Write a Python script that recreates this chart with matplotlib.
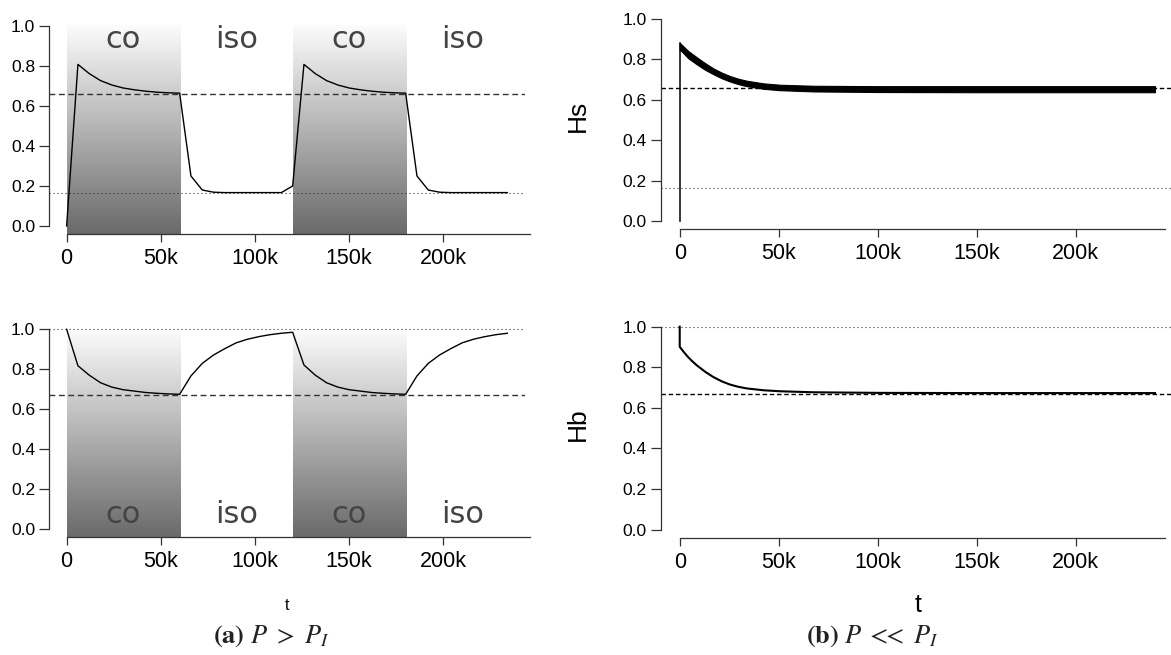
import numpy as np
import matplotlib
matplotlib.use('Agg')
import matplotlib.pyplot as plt
from matplotlib.colors import LinearSegmentedColormap
from matplotlib.ticker import FuncFormatter

plt.rcParams['font.family'] = ['Liberation Sans', 'DejaVu Sans']
plt.rcParams['mathtext.fontset'] = 'stix'

# ---- (a) P > P_I : sampled every 6k steps (t in thousands)
T_A = [0, 6, 12, 18, 24, 30, 36, 42, 48, 54, 60, 66, 72, 78, 84, 90, 96, 102, 108, 114,
       120, 126, 132, 138, 144, 150, 156, 162, 168, 174, 180, 186, 192, 198, 204, 210,
       216, 222, 228, 234]
HS_A = [0.0, 0.808, 0.762, 0.727, 0.705, 0.690, 0.681, 0.674, 0.669, 0.666, 0.664,
        0.250, 0.180, 0.169, 0.167, 0.167, 0.167, 0.167, 0.167, 0.167,
        0.200, 0.808, 0.762, 0.727, 0.705, 0.690, 0.681, 0.674, 0.669, 0.666, 0.664,
        0.250, 0.180, 0.169, 0.167, 0.167, 0.167, 0.167, 0.167, 0.167]
HB_A = [1.0, 0.817, 0.770, 0.732, 0.710, 0.697, 0.690, 0.683, 0.679, 0.676, 0.674,
        0.766, 0.829, 0.871, 0.903, 0.932, 0.950, 0.963, 0.973, 0.980,
        0.985, 0.821, 0.770, 0.732, 0.710, 0.697, 0.690, 0.683, 0.679, 0.676, 0.674,
        0.766, 0.829, 0.871, 0.903, 0.932, 0.950, 0.963, 0.973, 0.980]
PHASES = [(0, 60, 'co'), (60, 120, 'iso'), (120, 180, 'co'), (180, 240, 'iso')]

# ---- (b) P << P_I : Hs oscillates in a narrow band (upper / lower envelope)
T_B = [0, 1, 4.3, 8.6, 12.8, 17, 21.2, 25.4, 29.6, 33.8, 42.2, 50.6, 67.5, 100, 150, 200, 240]
HS_B_START = 0.0
HS_B_UP = [0.882, 0.873, 0.842, 0.811, 0.782, 0.756, 0.735, 0.718, 0.705, 0.695, 0.682,
           0.675, 0.670, 0.668, 0.668, 0.668, 0.668]
HS_B_LO = [0.848, 0.840, 0.806, 0.776, 0.749, 0.727, 0.707, 0.691, 0.678, 0.668, 0.655,
           0.648, 0.642, 0.639, 0.638, 0.638, 0.638]
T_HB = [0, 0, 2, 4, 6, 8.6, 13, 17, 21.2, 25.4, 29.6, 33.8, 42.2, 50.6, 67.5, 101, 150, 200, 240]
HB_B = [1.0, 0.901, 0.876, 0.853, 0.833, 0.810, 0.777, 0.752, 0.731, 0.715, 0.704, 0.696,
        0.687, 0.682, 0.677, 0.674, 0.673, 0.673, 0.673]

HS_EQ, HS_ISO = 0.66, 1 / 6
HB_EQ, HB_ISO = 0.67, 1.0

K = 1000
W, H = 1171, 655
fig = plt.figure(figsize=(W / 100, H / 100), dpi=100)

def px_axes(x0, x1, y0, y1):
    return fig.add_axes([x0 / W, 1 - y1 / H, (x1 - x0) / W, (y1 - y0) / H])

ax_tl = px_axes(49, 525, 18, 234)
ax_bl = px_axes(49, 525, 321.3, 536.7)
ax_tr = px_axes(660.7, 1174, 10.9, 229.4)
ax_br = px_axes(660.7, 1174, 318.6, 537.8)

cmap = LinearSegmentedColormap.from_list('shade', ['#6a6a6a', '#fcfcfc'])
grad = np.linspace(0, 1, 256).reshape(-1, 1)
kfmt = FuncFormatter(lambda v, p: '0' if v == 0 else f'{v / K:.0f}k')

def style(ax, xmax, xend):
    ax.set_xlim(-0.04 * xmax, 1.04 * xmax)
    ax.set_ylim(-0.04, 1.04)
    for s in ('top', 'right'):
        ax.spines[s].set_visible(False)
    ax.spines['left'].set_bounds(0, 1)
    ax.spines['bottom'].set_bounds(0, xend)
    for s in ('left', 'bottom'):
        ax.spines[s].set_color('#333333')
        ax.spines[s].set_linewidth(0.9)
        ax.spines[s].set_clip_on(False)
    ax.set_yticks([0, 0.2, 0.4, 0.6, 0.8, 1.0])
    ax.set_yticklabels(['0.0', '0.2', '0.4', '0.6', '0.8', '1.0'])
    ax.set_xticks([0, 50 * K, 100 * K, 150 * K, 200 * K])
    ax.xaxis.set_major_formatter(kfmt)
    ax.tick_params(axis='y', length=7, width=0.9, color='#333333', labelsize=12.5, pad=3)
    ax.tick_params(axis='x', length=6, width=0.9, color='#333333', labelsize=15.5, pad=4)
    ax.patch.set_alpha(0)

def shade(ax, text_y):
    for a, b, lab in PHASES:
        if lab == 'co':
            ax.imshow(grad, extent=(a * K, b * K, -0.04, 1.0), origin='lower',
                      cmap=cmap, aspect='auto', zorder=0, interpolation='bilinear')
        ax.text((a + b) / 2 * K, text_y, lab, ha='center', va='baseline',
                fontsize=22, color='#444444', family='DejaVu Sans', zorder=1)

ta = np.array(T_A) * K

# top-left: Hs, case (a)
shade(ax_tl, 0.889)
ax_tl.axhline(HS_EQ, color='#333333', lw=1.0, ls=(0, (4.2, 2.6)), zorder=2)
ax_tl.axhline(HS_ISO, color='#333333', lw=0.8, ls=(0, (1, 2.6)), zorder=2)
ax_tl.plot(ta, HS_A, color='black', lw=1.0, zorder=3)
style(ax_tl, 234 * K, 246 * K)

# bottom-left: Hb, case (a)
shade(ax_bl, 0.027)
ax_bl.axhline(HB_EQ, color='#333333', lw=1.0, ls=(0, (4.2, 2.6)), zorder=2)
ax_bl.axhline(HB_ISO, color='#333333', lw=0.8, ls=(0, (1, 2.6)), zorder=2)
ax_bl.plot(ta, HB_A, color='black', lw=1.0, zorder=3)
style(ax_bl, 234 * K, 246 * K)

# top-right: Hs, case (b)
tb = np.array(T_B) * K
ax_tr.axhline(HS_EQ, color='black', lw=1.0, ls=(0, (3.2, 2.0)), zorder=2)
ax_tr.axhline(HS_ISO, color='#333333', lw=0.8, ls=(0, (1, 2.6)), zorder=2)
ax_tr.plot([tb[0], tb[0]], [HS_B_START, HS_B_UP[0]], color='black', lw=1.1, zorder=3)
ax_tr.fill_between(tb, HS_B_LO, HS_B_UP, color='black', lw=0.8, zorder=3)
style(ax_tr, 240 * K, 245.3 * K)
ax_tr.set_ylabel('Hs', fontsize=19)
ax_tr.yaxis.set_label_coords(-0.138, 0.52)

# bottom-right: Hb, case (b)
ax_br.axhline(HB_EQ, color='black', lw=1.0, ls=(0, (3.2, 2.0)), zorder=2)
ax_br.axhline(HB_ISO, color='#333333', lw=0.8, ls=(0, (1, 2.6)), zorder=2)
ax_br.plot(np.array(T_HB) * K, HB_B, color='black', lw=1.5, zorder=3)
style(ax_br, 240 * K, 245.3 * K)
ax_br.set_ylabel('Hb', fontsize=19)
ax_br.yaxis.set_label_coords(-0.138, 0.52)

# axis titles and sub-captions
fig.text(287 / W, 1 - 605 / H, 't', ha='center', va='center', fontsize=11.5)
fig.text(918 / W, 1 - 605 / H, 't', ha='center', va='center', fontsize=18)
fig.text(271 / W, 1 - 636 / H, r'$\mathbf{(a)}\ P\ >\ P_I$', ha='center', va='center',
         fontsize=19, color='#222222')
fig.text(872 / W, 1 - 636 / H, r'$\mathbf{(b)}\ P\;{<}\!\!\!{<}\;P_I$', ha='center',
         va='center', fontsize=19, color='#222222')

fig.savefig('out.png', dpi=100, facecolor='white')
